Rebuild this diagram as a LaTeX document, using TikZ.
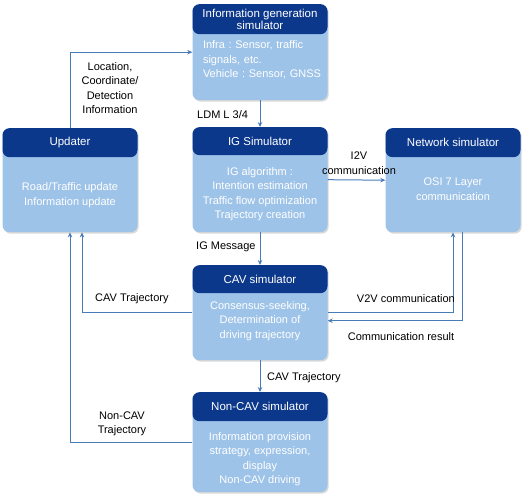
\documentclass[tikz,border=0pt]{standalone}
\usepackage{fontspec}
\setmainfont{Liberation Sans}
\frenchspacing
\usetikzlibrary{arrows.meta,shadows}
\definecolor{headnavy}{RGB}{12,56,140}
\definecolor{bodyblue}{RGB}{158,195,232}
\definecolor{flowblue}{RGB}{72,124,184}
\tikzset{simbody/.style={
    fill=bodyblue, rounded corners=7pt, anchor=north,
    minimum width=135pt, minimum height=#1, inner sep=0pt,
    drop shadow={shadow xshift=1.2pt, shadow yshift=-1.5pt, opacity=.3}
  },
  simhead/.style={
    fill=headnavy, text=white, rounded corners=7pt, anchor=north,
    minimum width=135pt, minimum height=#1, inner sep=1pt, align=center,
    font=\fontsize{11.5}{12.5}\selectfont
  },
  simtext/.style={text=white, align=center, font=\fontsize{11}{14.5}\selectfont},
  flow/.style={draw=flowblue, line width=1pt, -{Stealth[length=5pt,width=4.5pt]}},
  flowlabel/.style={align=center, inner sep=1pt, font=\fontsize{11}{14.5}\selectfont}
}

\begin{document}
\begin{tikzpicture}[x=1pt,y=-1pt]
    \useasboundingbox (0,0) rectangle (528,500);

    % simulators
    \node[simbody=96pt] (infogen) at (260,4) {};
    \node[simhead=30pt] (infogen-h) at (260,4) {Information generation\\simulator};
    \node[simtext, align=left, text width=124pt] (infogen-t) at (265,60) {Infra : Sensor, traffic\\signals, etc.\\Vehicle : Sensor, GNSS};

    \node[simbody=105pt] (ig) at (260,127) {};
    \node[simhead=28pt] (ig-h) at (260,127) {IG Simulator};
    \node[simtext] (ig-t) at (260,194) {IG algorithm :\\Intention estimation\\Traffic flow optimization\\Trajectory creation};

    \node[simbody=104pt] (net) at (453,128) {};
    \node[simhead=29pt] (net-h) at (453,128) {Network simulator};
    \node[simtext] (net-t) at (453,189) {OSI 7 Layer\\communication};

    \node[simbody=104pt] (upd) at (70,128) {};
    \node[simhead=29pt] (upd-h) at (70,128) {Updater};
    \node[simtext] (upd-t) at (70,195) {Road/Traffic update\\Information update};

    \node[simbody=95pt] (cav) at (260,265) {};
    \node[simhead=28pt] (cav-h) at (260,265) {CAV simulator};
    \node[simtext] (cav-t) at (260,321) {Consensus-seeking,\\Determination of\\driving trajectory};

    \node[simbody=100pt] (noncav) at (260,392) {};
    \node[simhead=29pt] (noncav-h) at (260,392) {Non-CAV simulator};
    \node[simtext] (noncav-t) at (260,459) {Information provision\\strategy, expression,\\display\\Non-CAV driving};

    % connectors
    \draw[flow] (upd.north) |- (infogen.west);
    \draw[flow] (infogen.south) -- (ig.north);
    \draw[flow] (ig.east) -- (net.west);
    \draw[flow] (ig.south) -- (cav.north);
    \draw[flow] (cav.west) -| ([xshift=12pt]upd.south);
    \draw[flow] (noncav.west) -| (upd.south);
    \draw[flow] (cav.east) -| (net.south);
    \draw[flow] ([xshift=9pt]net.south) |- ([yshift=-8pt]cav.east);
    \draw[flow] (cav.south) -- (noncav.north);

    % labels
    \node[flowlabel] (loc-l) at (110,88) {Location,\\Coordinate/\\Detection\\Information};
    \node[flowlabel, anchor=west] (ldm-l) at (196,115) {LDM L 3/4};
    \node[flowlabel] (i2v-l) at (359,163) {I2V\\communication};
    \node[flowlabel, anchor=west] (igm-l) at (195,247) {IG Message};
    \node[flowlabel, anchor=west] (cavt-l) at (94,299) {CAV Trajectory};
    \node[flowlabel, anchor=east] (v2v-l) at (456,299) {V2V communication};
    \node[flowlabel] (res-l) at (401,337) {Communication result};
    \node[flowlabel, anchor=west] (cavt2-l) at (266,378) {CAV Trajectory};
    \node[flowlabel] (ncavt-l) at (122,424) {Non-CAV\\Trajectory};
\end{tikzpicture}
\end{document}
